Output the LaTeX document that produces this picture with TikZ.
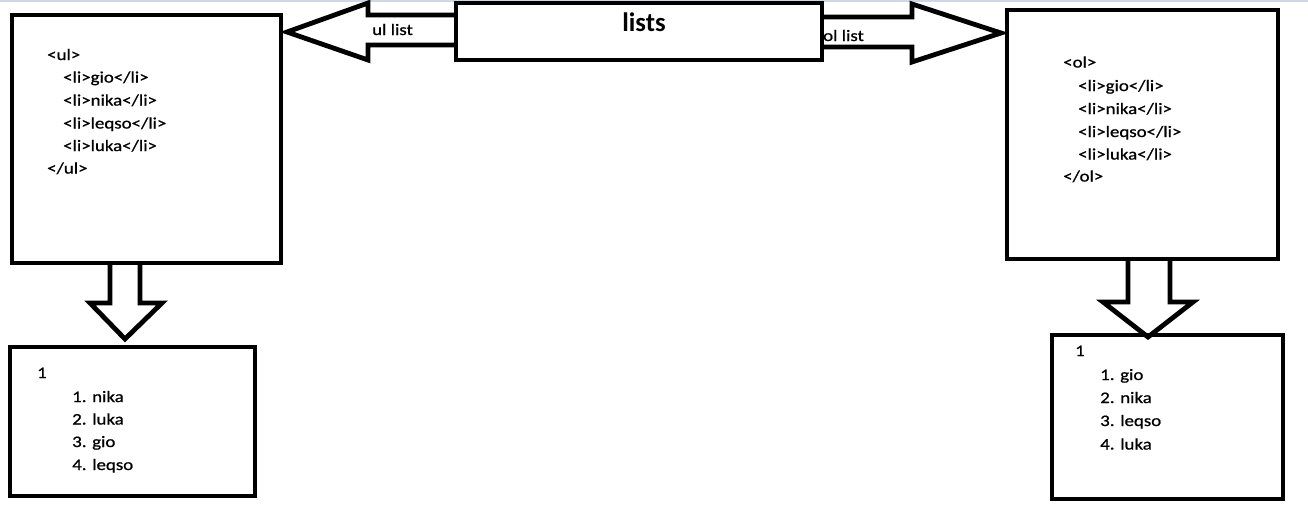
\documentclass[tikz,border=0pt]{standalone}
\usepackage{fontspec}
\setmainfont{Carlito}
\newfontfamily\calw[FakeStretch=1.18,FakeBold=0.8]{Carlito}
\definecolor{topline}{RGB}{205,215,230}
\tikzset{
  box/.style={draw, line width=4.8pt, inner sep=0pt, outer sep=0pt},
  blockarrow/.style={draw, line width=4.8pt, line join=miter},
  code/.style={anchor=base west, inner sep=0pt, font=\calw\fontsize{16}{20}\selectfont},
  lbl/.style={anchor=base west, inner sep=0pt, font=\calw\fontsize{16}{20}\selectfont},
  title/.style={anchor=base, inner sep=0pt, font=\fontsize{26.7}{30}\selectfont\bfseries}
}
\begin{document}
\begin{tikzpicture}[x=1pt,y=-1pt]
\useasboundingbox (0,0) rectangle (1308,514);
\fill[white] (0,0) rectangle (1308,514);
\draw[topline, line width=2pt] (0,1) -- (1308,1);

% boxes
\node[box, minimum width=269pt, minimum height=248pt] (ulbox) at (146.5,139) {};
\node[box, minimum width=366pt, minimum height=57pt] (lists) at (639,31.5) {};
\node[box, minimum width=271pt, minimum height=249pt] (olbox) at (1142.5,134.5) {};
\node[box, minimum width=245pt, minimum height=149pt] (ulout) at (132.5,421.5) {};
\node[box, minimum width=231pt, minimum height=164pt] (olout) at (1167.5,417) {};

% title
\node[title] (ttl) at (644,31) {lists};

% block arrows
\coordinate (ultip) at (287,32);
\draw[blockarrow] (lists.west |- 0,15) -- (368,15) -- (368,3) -- (ultip) -- (368,60) -- (368,45) -- (lists.west |- 0,45);
\coordinate (oltip) at (1001,33);
\draw[blockarrow] (lists.east |- 0,17) -- (912,17) -- (912,4) -- (oltip) -- (912,62) -- (912,47) -- (lists.east |- 0,47);
\coordinate (ldtip) at (125,339);
\draw[blockarrow] (110,0 |- ulbox.south) -- (110,303) -- (90,303) -- (ldtip) -- (162,303) -- (140,303) -- (140,0 |- ulbox.south);
\coordinate (rdtip) at (1148,337);
\draw[blockarrow] (1128,0 |- olbox.south) -- (1128,302) -- (1103,302) -- (rdtip) -- (1193,302) -- (1170,302) -- (1170,0 |- olbox.south);

% arrow labels
\node[lbl] (ullbl) at (372,35) {ul list};
\node[lbl] (ollbl) at (823,41) {ol list};

% ul code
\node[code] (ul0) at (47,60) {<ul>};
\node[code] (ul1) at (63,82.5) {<li>gio</li>};
\node[code] (ul2) at (63,105.5) {<li>nika</li>};
\node[code] (ul3) at (63,128.5) {<li>leqso</li>};
\node[code] (ul4) at (63,151) {<li>luka</li>};
\node[code] (ul5) at (47,173.5) {</ul>};

% ol code
\node[code] (ol0) at (1063,67.5) {<ol>};
\node[code] (ol1) at (1078,91) {<li>gio</li>};
\node[code] (ol2) at (1078,114) {<li>nika</li>};
\node[code] (ol3) at (1078,137) {<li>leqso</li>};
\node[code] (ol4) at (1078,159.5) {<li>luka</li>};
\node[code] (ol5) at (1063,181.5) {</ol>};

% ul output
\node[code] (uo0) at (37,378) {1};
\node[code] (uo1) at (72,402) {1. nika};
\node[code] (uo2) at (72,424.5) {2. luka};
\node[code] (uo3) at (72,447) {3. gio};
\node[code] (uo4) at (72,470) {4. leqso};

% ol output
\node[code] (oo0) at (1075,356) {1};
\node[code] (oo1) at (1100,380) {1. gio};
\node[code] (oo2) at (1100,403) {2. nika};
\node[code] (oo3) at (1100,426) {3. leqso};
\node[code] (oo4) at (1100,449.5) {4. luka};
\end{tikzpicture}
\end{document}
